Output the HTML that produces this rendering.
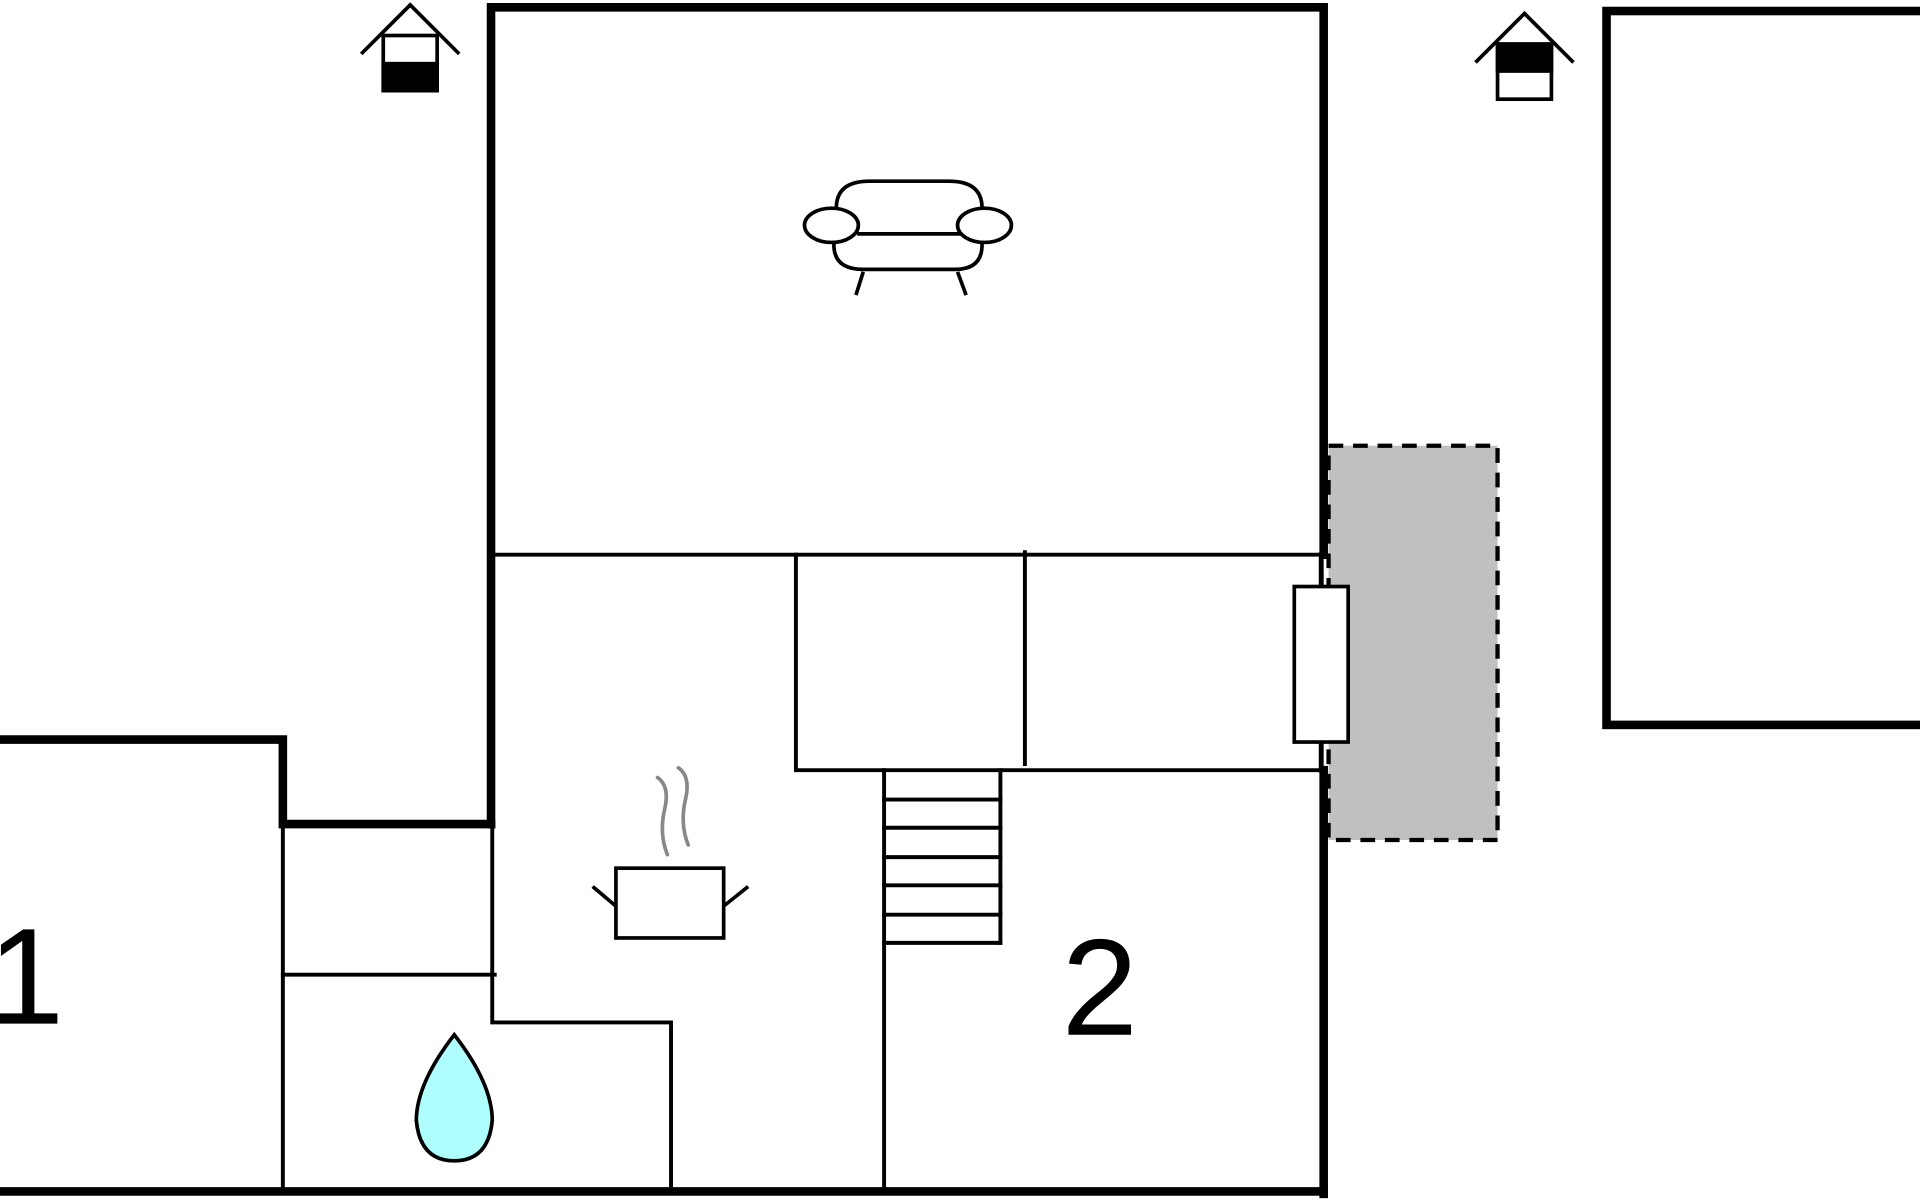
<!DOCTYPE html>
<html><head><style>html,body{margin:0;padding:0;background:#fff;width:1920px;height:1200px;overflow:hidden}</style></head>
<body>
<svg width="1920" height="1200" viewBox="0 0 1568 980" xmlns="http://www.w3.org/2000/svg">
<rect width="1568" height="980" fill="#fff"/>
<rect x="1085" y="364" width="138" height="322" fill="#c0c0c0" stroke="#000" stroke-width="3.5" stroke-dasharray="12,8"/>
<g stroke="#000" fill="none" stroke-linecap="square">
<polyline points="401,673 401,6 1081,6 1081,453" stroke-width="7"/>
<line x1="1081" y1="629" x2="1081" y2="975" stroke-width="7"/>
<line x1="1079" y1="453" x2="1079" y2="629" stroke-width="4"/>
<polyline points="401,673 231,673 231,604 0,604" stroke-width="7"/>
<line x1="0" y1="973" x2="1081" y2="973" stroke-width="7"/>
<rect x="1312" y="9" width="270" height="583" stroke-width="7"/>
<g stroke-width="3.2">
<line x1="405" y1="453" x2="1077" y2="453"/>
<polyline points="650,453 650,629 1077,629"/>
<line x1="837" y1="451" x2="837" y2="624"/>
<line x1="722" y1="629" x2="722" y2="970"/>
<line x1="817" y1="629" x2="817" y2="770"/>
<line x1="722" y1="653" x2="817" y2="653"/>
<line x1="722" y1="676" x2="817" y2="676"/>
<line x1="722" y1="700" x2="817" y2="700"/>
<line x1="722" y1="723" x2="817" y2="723"/>
<line x1="722" y1="747" x2="817" y2="747"/>
<line x1="722" y1="770" x2="817" y2="770"/>
<line x1="231" y1="673" x2="231" y2="970"/>
<polyline points="402,673 402,835 548,835 548,970"/>
<line x1="231" y1="796" x2="404" y2="796"/>
</g>
</g>
<rect x="1057" y="479" width="44" height="127" fill="#fff" stroke="#000" stroke-width="3"/>
<g stroke="#000" stroke-width="3" fill="none">
<polyline points="295,44 335,4 375,44"/>
<rect x="313" y="29" width="44" height="45" fill="#fff"/>
<rect x="313" y="52" width="44" height="22" fill="#000"/>
<polyline points="1205,51 1245,11 1285,51"/>
<rect x="1223" y="36" width="44" height="45" fill="#fff"/>
<rect x="1223" y="36" width="44" height="22" fill="#000"/>
</g>
<g stroke="#000" stroke-width="3" fill="#fff">
<path d="M683,170 Q683,148 710,148 L775,148 Q802,148 802,170 L802,200 Q802,220 780,220 L705,220 Q681,220 681,200 Z"/>
<line x1="700" y1="191" x2="785" y2="191"/>
<ellipse cx="679" cy="184" rx="22" ry="14"/>
<ellipse cx="804" cy="184" rx="22" ry="14"/>
<line x1="705" y1="222" x2="699" y2="241"/>
<line x1="782" y1="222" x2="789" y2="241"/>
</g>
<g stroke="#000" stroke-width="3" fill="#fff">
<rect x="503" y="709" width="88" height="57"/>
<line x1="503" y1="740" x2="484" y2="724"/>
<line x1="591" y1="740" x2="611" y2="724"/>
</g>
<g stroke="#888" stroke-width="3" fill="none" stroke-linecap="round">
<path d="M537,635 Q547,642 543,660 Q538,680 545,698"/>
<path d="M554,627 Q564,634 560,652 Q555,672 562,690"/>
</g>
<path d="M371,845 Q402,885 402,915 Q399,948 371,948 Q343,948 340,915 Q340,885 371,845 Z" fill="#b0ffff" stroke="#000" stroke-width="3"/>
<text x="-10" y="836" font-family="Liberation Sans, sans-serif" font-size="112">1</text>
<text x="867" y="845" font-family="Liberation Sans, sans-serif" font-size="112">2</text>
</svg>
</body></html>
